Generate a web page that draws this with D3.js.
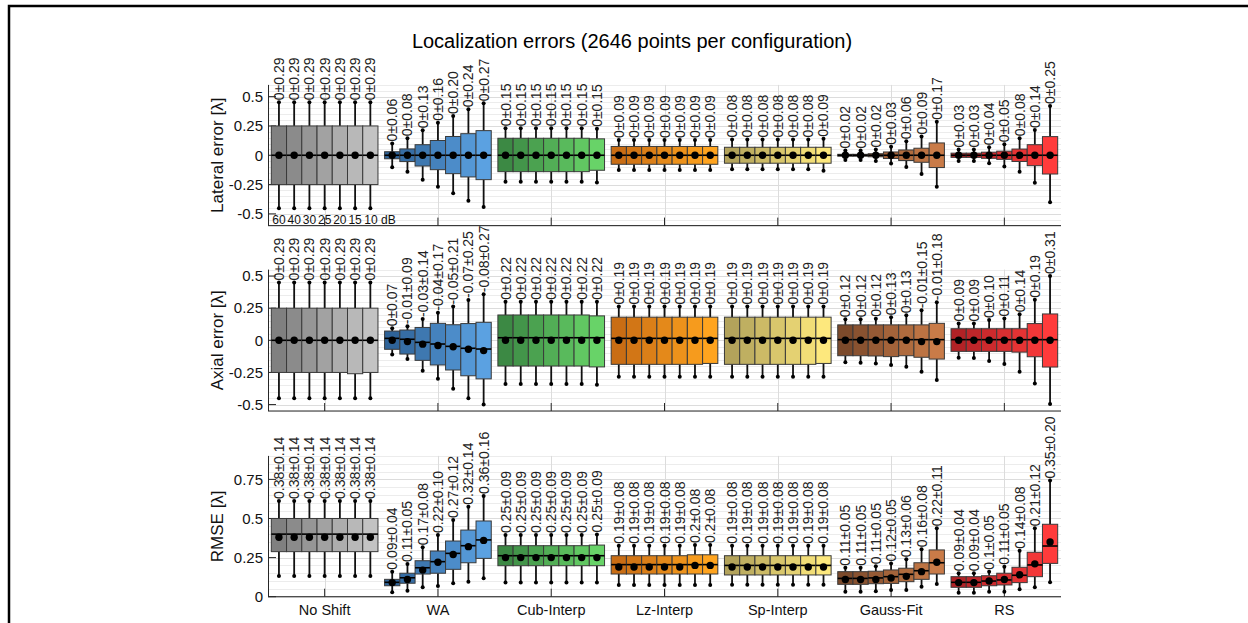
<!DOCTYPE html>
<html><head><meta charset="utf-8">
<script src="https://cdn.jsdelivr.net/npm/d3@7"></script>
<style>
body{margin:0;background:#fff}
svg{display:block}
text{font-family:"Liberation Sans",Arial,Helvetica,sans-serif}
</style>
</head><body>
<svg id="chart" width="1248" height="623"></svg>
<script>
// ---- categories ----
const methods = ["No Shift", "WA", "Cub-Interp", "Lz-Interp", "Sp-Interp", "Gauss-Fit", "RS"];
const snrLabels = ["60", "40", "30", "25", "20", "15", "10 dB"];
const titleText = "Localization errors (2646 points per configuration)";

// ---- lateral error [λ] (rows: method, cols: SNR) ----
const latMean = [
  [0,0,0,0,0,0,0],[0,0,0,0,0,0,0],[0,0,0,0,0,0,0],[0,0,0,0,0,0,0],
  [0,0,0,0,0,0,0],[0,0,0,0,0,0,0],[0,0,0,0,0,0,0]];
const latStd = [
  [.29,.29,.29,.29,.29,.29,.29],
  [.06,.08,.13,.16,.20,.24,.27],
  [.15,.15,.15,.15,.15,.15,.15],
  [.09,.09,.09,.09,.09,.09,.09],
  [.08,.08,.08,.08,.08,.08,.09],
  [.02,.02,.02,.03,.06,.09,.17],
  [.03,.03,.04,.05,.08,.14,.25]];
const latMed = [
  [0,0,0,0,0,0,0],[0,0,0,0,0,0,0],[0,0,0,0,0,0,0],[0,0,0,0,0,0,0],
  [0,0,0,0,0,0,0],[0,0,0,0,0,0,0],[0,0,0,0,0,0,0]];
const latQ3 = [
  [.25,.25,.25,.25,.25,.25,.25],
  [.03,.054,.09,.126,.16,.184,.21],
  [.145,.145,.145,.145,.145,.145,.14],
  [.075,.075,.075,.075,.075,.075,.075],
  [.068,.068,.068,.068,.068,.068,.068],
  [.008,.008,.013,.028,.045,.06,.105],
  [.018,.018,.026,.035,.053,.09,.159]];
const latQ1 = [
  [-.25,-.25,-.25,-.25,-.25,-.25,-.25],
  [-.03,-.054,-.092,-.123,-.157,-.185,-.208],
  [-.14,-.14,-.14,-.14,-.14,-.14,-.128],
  [-.077,-.077,-.077,-.077,-.077,-.077,-.077],
  [-.068,-.068,-.068,-.068,-.068,-.068,-.068],
  [-.008,-.008,-.013,-.028,-.045,-.06,-.105],
  [-.018,-.018,-.026,-.035,-.053,-.089,-.16]];
const latHi = [
  [.452,.452,.452,.452,.452,.452,.452],
  [.10,.145,.213,.278,.335,.392,.443],
  [.23,.23,.23,.23,.23,.23,.225],
  [.13,.13,.13,.13,.13,.13,.13],
  [.135,.135,.135,.135,.135,.135,.14],
  [.04,.04,.05,.073,.12,.16,.285],
  [.05,.05,.068,.094,.145,.216,.42]];
const latLo = [
  [-.452,-.452,-.452,-.452,-.452,-.452,-.452],
  [-.102,-.14,-.208,-.268,-.324,-.387,-.441],
  [-.225,-.225,-.225,-.225,-.225,-.225,-.232],
  [-.125,-.125,-.125,-.125,-.125,-.125,-.125],
  [-.12,-.12,-.12,-.12,-.12,-.12,-.132],
  [-.04,-.04,-.05,-.07,-.1,-.16,-.268],
  [-.05,-.05,-.068,-.097,-.14,-.234,-.40]];

// ---- axial error [λ] ----
const axMean = [
  [0,0,0,0,0,0,0],
  [0,-.01,-.03,-.04,-.05,-.07,-.08],
  [0,0,0,0,0,0,0],[0,0,0,0,0,0,0],[0,0,0,0,0,0,0],
  [0,0,0,0,0,-.01,-.01],
  [0,0,0,0,0,0,0]];
const axStd = [
  [.29,.29,.29,.29,.29,.29,.29],
  [.07,.09,.14,.17,.21,.25,.27],
  [.22,.22,.22,.22,.22,.22,.22],
  [.19,.19,.19,.19,.19,.19,.19],
  [.19,.19,.19,.19,.19,.19,.19],
  [.12,.12,.12,.13,.13,.15,.18],
  [.09,.09,.10,.11,.14,.19,.31]];
const axMed = [
  [0,0,0,0,0,0,0],
  [.015,.008,-.016,-.029,-.047,-.062,-.068],
  [.02,.02,.02,.02,.02,.02,.02],
  [.015,.015,.015,.015,.015,.015,.015],
  [.015,.015,.015,.015,.015,.015,.015],
  [.005,.005,.005,.005,.005,.005,.005],
  [.005,.005,.005,.005,.005,.005,.005]];
const axQ3 = [
  [.25,.25,.25,.25,.25,.25,.25],
  [.072,.08,.10,.132,.121,.13,.14],
  [.197,.197,.197,.197,.197,.197,.19],
  [.18,.18,.18,.18,.18,.18,.18],
  [.18,.18,.18,.18,.18,.18,.18],
  [.12,.12,.12,.12,.12,.12,.132],
  [.09,.09,.09,.09,.09,.13,.205]];
const axQ1 = [
  [-.25,-.25,-.25,-.25,-.25,-.26,-.25],
  [-.07,-.107,-.156,-.192,-.231,-.276,-.30],
  [-.20,-.20,-.20,-.20,-.20,-.20,-.207],
  [-.187,-.187,-.187,-.187,-.187,-.187,-.18],
  [-.187,-.187,-.187,-.187,-.187,-.187,-.18],
  [-.12,-.12,-.122,-.127,-.12,-.132,-.146],
  [-.086,-.086,-.086,-.086,-.092,-.128,-.208]];
const axHi = [
  [.45,.45,.45,.45,.45,.45,.45],
  [.093,.11,.166,.215,.262,.314,.358],
  [.30,.30,.30,.30,.30,.30,.30],
  [.262,.262,.262,.262,.262,.262,.262],
  [.262,.262,.262,.262,.262,.262,.262],
  [.163,.163,.168,.179,.195,.233,.296],
  [.13,.13,.158,.169,.202,.316,.50]];
const axLo = [
  [-.45,-.45,-.45,-.45,-.45,-.45,-.45],
  [-.11,-.146,-.237,-.30,-.377,-.45,-.50],
  [-.34,-.34,-.34,-.34,-.34,-.34,-.345],
  [-.283,-.283,-.283,-.283,-.283,-.283,-.283],
  [-.283,-.283,-.283,-.283,-.283,-.283,-.283],
  [-.171,-.175,-.18,-.192,-.205,-.244,-.309],
  [-.135,-.137,-.161,-.185,-.244,-.336,-.496]];

// ---- RMSE [λ] ----
const rmMean = [
  [.38,.38,.38,.38,.38,.38,.38],
  [.09,.11,.17,.22,.27,.32,.36],
  [.25,.25,.25,.25,.25,.25,.25],
  [.19,.19,.19,.19,.19,.2,.2],
  [.19,.19,.19,.19,.19,.19,.19],
  [.11,.11,.11,.12,.13,.16,.22],
  [.09,.09,.1,.11,.14,.21,.35]];
const rmStd = [
  [.14,.14,.14,.14,.14,.14,.14],
  [.04,.05,.08,.10,.12,.14,.16],
  [.09,.09,.09,.09,.09,.09,.09],
  [.08,.08,.08,.08,.08,.08,.08],
  [.08,.08,.08,.08,.08,.08,.08],
  [.05,.05,.05,.05,.06,.08,.11],
  [.04,.04,.05,.05,.08,.12,.20]];
const rmMed = [
  [.40,.40,.40,.40,.40,.40,.40],
  [.092,.121,.185,.224,.277,.326,.363],
  [.262,.262,.262,.262,.262,.262,.262],
  [.205,.205,.205,.205,.205,.205,.205],
  [.20,.20,.20,.20,.20,.20,.20],
  [.117,.117,.12,.128,.143,.166,.217],
  [.092,.092,.10,.107,.137,.203,.324]];
const rmQ3 = [
  [.50,.50,.50,.50,.50,.50,.50],
  [.111,.15,.23,.292,.356,.426,.484],
  [.326,.326,.326,.326,.326,.326,.33],
  [.262,.262,.262,.262,.262,.268,.268],
  [.262,.262,.262,.262,.262,.262,.262],
  [.16,.16,.163,.171,.182,.217,.299],
  [.128,.128,.134,.15,.188,.284,.463]];
const rmQ1 = [
  [.288,.288,.288,.288,.288,.288,.288],
  [.07,.086,.145,.15,.175,.217,.245],
  [.198,.198,.198,.198,.198,.198,.198],
  [.145,.145,.145,.145,.145,.145,.145],
  [.139,.139,.139,.139,.139,.139,.139],
  [.079,.079,.083,.085,.096,.111,.145],
  [.06,.06,.07,.075,.09,.128,.213]];
const rmHi = [
  [.612,.612,.612,.612,.612,.612,.612],
  [.16,.209,.316,.394,.49,.575,.644],
  [.394,.394,.394,.394,.394,.394,.398],
  [.326,.326,.326,.326,.326,.33,.33],
  [.326,.326,.326,.326,.326,.326,.326],
  [.185,.185,.195,.213,.239,.303,.437],
  [.15,.15,.16,.192,.294,.437,.742]];
const rmLo = [
  [.132,.132,.132,.132,.132,.132,.132],
  [.028,.038,.06,.068,.086,.096,.118],
  [.09,.09,.09,.09,.09,.09,.09],
  [.075,.075,.075,.075,.075,.075,.075],
  [.077,.077,.077,.077,.077,.077,.077],
  [.032,.032,.035,.043,.043,.064,.081],
  [.026,.026,.032,.032,.047,.06,.092]];

// ---- tick labels ----
const errTicks = [-0.5, -0.25, 0, 0.25, 0.5];
const rmseTicks = [0, 0.25, 0.5, 0.75];

// ---- per-method colour ramps (darkest = highest SNR) ----
const rampDark  = ["#808080", "#2f6398", "#3c8944", "#c96d14", "#b3a35b", "#7c4a2b", "#b22226"];
const rampLight = ["#c3c3c3", "#5ba1e1", "#68d368", "#ffa41f", "#fde87d", "#c97b48", "#ff3b3b"];

// ---------------------------------------------------------------
const svg = d3.select("#chart");
const W = 1248, H = 623;
const xLeft = 268, xRight = 1061;
const x = d3.scaleLinear().domain([0.5, 7.5]).range([xLeft, xRight]);
const boxStep = 0.1345;                       // box width in group units
const bwPx = x(boxStep) - x(0);
const axisCol = "#262626";

// frame around the figure
svg.append("rect").attr("x", 9).attr("y", 6).attr("width", W + 20).attr("height", H + 20)
  .attr("fill", "none").attr("stroke", "#000").attr("stroke-width", 2.5);

svg.append("text").attr("x", 632).attr("y", 48).attr("text-anchor", "middle")
  .attr("font-size", 20).attr("fill", "#000").text(titleText);

const fmtMean = v => String(+v.toFixed(2));
const fmtStd = v => v.toFixed(2);

const panels = [
  {label: "Lateral error [λ]", dom: [-0.6, 0.6], range: [225.6, 84.9], ticks: errTicks,
   mean: latMean, std: latStd, med: latMed, q1: latQ1, q3: latQ3, lo: latLo, hi: latHi, snr: true},
  {label: "Axial error [λ]", dom: [-0.55, 0.55], range: [411, 269.6], ticks: errTicks,
   mean: axMean, std: axStd, med: axMed, q1: axQ1, q3: axQ3, lo: axLo, hi: axHi},
  {label: "RMSE [λ]", dom: [0, 0.9], range: [596.7, 455.9], ticks: rmseTicks,
   mean: rmMean, std: rmStd, med: rmMed, q1: rmQ1, q3: rmQ3, lo: rmLo, hi: rmHi, names: true}
];

panels.forEach(p => {
  const y = d3.scaleLinear().domain(p.dom).range(p.range);
  const g = svg.append("g");
  const yB = p.range[0], yT = p.range[1];

  // minor grid every 0.05
  const minor = d3.range(Math.round(p.dom[0] / 0.05), Math.round(p.dom[1] / 0.05) + 1).map(i => i * 0.05);
  g.selectAll(".mg").data(minor).join("line")
    .attr("x1", xLeft).attr("x2", xRight)
    .attr("y1", d => Math.round(y(d)) + 0.5).attr("y2", d => Math.round(y(d)) + 0.5)
    .attr("stroke", "#ececec").attr("stroke-width", 1);
  // major grid
  g.selectAll(".Mg").data(p.ticks).join("line")
    .attr("x1", xLeft).attr("x2", xRight)
    .attr("y1", d => Math.round(y(d)) + 0.5).attr("y2", d => Math.round(y(d)) + 0.5)
    .attr("stroke", "#dcdcdc").attr("stroke-width", 1);
  g.selectAll(".vg").data(d3.range(1, 8)).join("line")
    .attr("x1", d => Math.round(x(d)) + 0.5).attr("x2", d => Math.round(x(d)) + 0.5)
    .attr("y1", yT).attr("y2", yB)
    .attr("stroke", "#dcdcdc").attr("stroke-width", 1);

  // axes
  g.append("line").attr("x1", xLeft).attr("x2", xRight).attr("y1", yB).attr("y2", yB)
    .attr("stroke", axisCol).attr("stroke-width", 1);
  g.append("line").attr("x1", xLeft + 0.5).attr("x2", xLeft + 0.5).attr("y1", yT).attr("y2", yB)
    .attr("stroke", axisCol).attr("stroke-width", 1);
  g.selectAll(".yt").data(p.ticks).join("line")
    .attr("x1", xLeft).attr("x2", xLeft + 8)
    .attr("y1", d => y(d)).attr("y2", d => y(d))
    .attr("stroke", axisCol).attr("stroke-width", 1);
  g.selectAll(".xt").data(d3.range(1, 8)).join("line")
    .attr("x1", d => x(d)).attr("x2", d => x(d))
    .attr("y1", yB).attr("y2", yB - 8)
    .attr("stroke", axisCol).attr("stroke-width", 1);
  g.selectAll(".ytl").data(p.ticks).join("text")
    .attr("x", 263).attr("y", d => y(d)).attr("dy", "0.35em")
    .attr("text-anchor", "end").attr("font-size", 15).attr("fill", "#111")
    .text(d => String(d));
  g.append("text")
    .attr("transform", `translate(223,${(yT + yB) / 2}) rotate(-90)`)
    .attr("text-anchor", "middle").attr("font-size", 17).attr("fill", "#111")
    .text(p.label);

  if (p.names) {
    g.selectAll(".xtl").data(methods).join("text")
      .attr("x", (d, i) => x(i + 1)).attr("y", yB + 18)
      .attr("text-anchor", "middle").attr("font-size", 14.5).attr("fill", "#111")
      .text(d => d);
  }

  // boxes
  methods.forEach((m, gi) => {
    const col = d3.interpolateRgb(rampDark[gi], rampLight[gi]);
    for (let k = 0; k < 7; k++) {
      const cx = x(gi + 1 + (k - 3) * boxStep);
      const q1 = p.q1[gi][k], q3 = p.q3[gi][k];
      const bx = g.append("g");
      bx.append("line").attr("x1", cx).attr("x2", cx)
        .attr("y1", y(p.hi[gi][k])).attr("y2", y(q3))
        .attr("stroke", "#111").attr("stroke-width", 1.8);
      bx.append("line").attr("x1", cx).attr("x2", cx)
        .attr("y1", y(q1)).attr("y2", y(p.lo[gi][k]))
        .attr("stroke", "#111").attr("stroke-width", 1.8);
      bx.append("rect")
        .attr("x", cx - bwPx / 2).attr("width", bwPx)
        .attr("y", y(q3)).attr("height", Math.max(0.5, y(q1) - y(q3)))
        .attr("fill", col(k / 6)).attr("stroke", "#3a3a3a").attr("stroke-width", 1);
      bx.append("line")
        .attr("x1", cx - bwPx / 2).attr("x2", cx + bwPx / 2)
        .attr("y1", y(p.med[gi][k])).attr("y2", y(p.med[gi][k]))
        .attr("stroke", "#000").attr("stroke-width", 1.6);
      [p.hi[gi][k], p.lo[gi][k]].forEach(v => {
        bx.append("circle").attr("cx", cx).attr("cy", y(v)).attr("r", 2)
          .attr("fill", "#000");
      });
      bx.append("circle").attr("cx", cx).attr("cy", y(p.mean[gi][k])).attr("r", 3.7)
        .attr("fill", "#000");
      bx.append("text")
        .attr("transform", `translate(${cx + 5},${y(p.hi[gi][k]) - 2}) rotate(-90)`)
        .attr("text-anchor", "start").attr("font-size", 14).attr("fill", "#222")
        .text(fmtMean(p.mean[gi][k]) + "±" + fmtStd(p.std[gi][k]));
    }
  });

  if (p.snr) {
    g.selectAll(".snr").data(snrLabels).join("text")
      .attr("x", (d, k) => x(1 + (k - 3) * boxStep) - (k === 6 ? 6 : 0))
      .attr("y", yB - 2)
      .attr("text-anchor", (d, k) => k === 6 ? "start" : "middle")
      .attr("font-size", 12).attr("fill", "#111")
      .text(d => d);
  }
});
</script>
</body></html>
